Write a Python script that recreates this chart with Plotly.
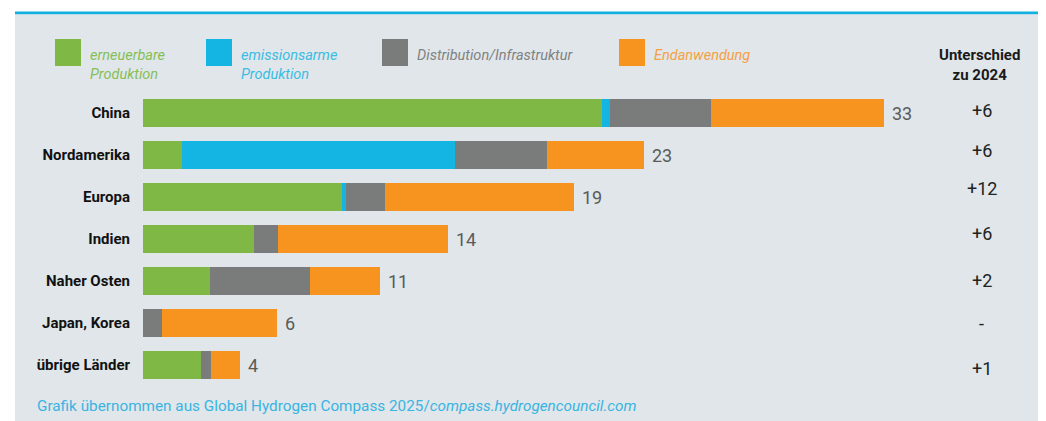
import plotly.graph_objects as go

# data (Mrd. USD, stacked by value-chain step)
regions = ["China", "Nordamerika", "Europa", "Indien", "Naher Osten", "Japan, Korea", "übrige Länder"]
renewable = [20.45, 1.75, 8.85, 4.95, 3.0, 0.0, 2.6]
low_emission = [0.35, 12.15, 0.2, 0.0, 0.0, 0.0, 0.0]
distribution = [4.5, 4.1, 1.75, 1.05, 4.45, 0.85, 0.45]
end_use = [7.7, 4.3, 8.4, 7.6, 3.1, 5.1, 1.25]
totals = ["33", "23", "19", "14", "11", "6", "4"]
diff_2024 = ["+6", "+6", "+12", "+6", "+2", "-", "+1"]

series_names = ["erneuerbare<br>Produktion", "emissionsarme<br>Produktion",
                "Distribution/Infrastruktur", "Endanwendung"]
series_values = [renewable, low_emission, distribution, end_use]
bar_colors = ["#80b846", "#14b5e2", "#7a7b7b", "#f7931f"]
text_colors = ["#86bf58", "#3bbce4", "#808283", "#f6a045"]

W, H = 1046, 421
OFF = 8  # the page body margin shifts the figure by 8px


def px(x):
    return (x - OFF) / W


def py(y):
    return 1 - (y - OFF) / H


fig = go.Figure()
for name, vals, col in zip(series_names, series_values, bar_colors):
    fig.add_trace(go.Bar(
        y=regions, x=vals, orientation="h", name=name,
        marker=dict(color=col, line=dict(width=0)),
        showlegend=False, hoverinfo="skip",
    ))

shapes = [
    # grey panel and the blue rule on top
    dict(type="rect", xref="paper", yref="paper", x0=px(15), x1=1, y0=0, y1=py(14),
         fillcolor="#e0e6e9", line=dict(width=0), layer="below"),
    dict(type="rect", xref="paper", yref="paper", x0=px(15), x1=1, y0=py(15), y1=py(13.8),
         fillcolor="#b9dcea", line=dict(width=0), layer="below"),
    dict(type="rect", xref="paper", yref="paper", x0=px(15), x1=1, y0=py(14), y1=py(11.5),
         fillcolor="#12b0e0", line=dict(width=0), layer="below"),
]

annotations = []

# custom legend
legend_x = [55, 206, 382, 619]
for lx, name, col, tcol in zip(legend_x, series_names, bar_colors, text_colors):
    shapes.append(dict(type="rect", xref="paper", yref="paper",
                       x0=px(lx), x1=px(lx + 26), y0=py(66), y1=py(39),
                       fillcolor=col, line=dict(width=0)))
    annotations.append(dict(xref="paper", yref="paper", x=px(lx + 33), y=py(45),
                            xanchor="left", yanchor="top", align="left",
                            text=f"<i>{name}</i>", showarrow=False,
                            font=dict(size=14.5, color=tcol)))

# totals at the bar ends
for i, r in enumerate(regions):
    end = sum(v[i] for v in series_values)
    annotations.append(dict(x=end, y=r, xref="x", yref="y", text=totals[i],
                            xanchor="left", yanchor="middle", xshift=6, showarrow=False,
                            font=dict(size=18, color="#5a5a5a")))

# difference column
diff_shift = [3, 5, 9, 6, 1, 0, -3]
for r, d, s in zip(regions, diff_2024, diff_shift):
    annotations.append(dict(xref="paper", yref="y", x=px(982), y=r, text=d,
                            xanchor="center", yanchor="middle", yshift=s, showarrow=False,
                            font=dict(size=18, color="#222222")))

annotations.append(dict(xref="paper", yref="paper", x=px(979), y=py(65),
                        text="<b>Unterschied<br>zu 2024</b>", showarrow=False,
                        xanchor="center", yanchor="middle",
                        font=dict(size=15, color="#1a1a1a")))

annotations.append(dict(xref="paper", yref="paper", x=px(35), y=py(406),
                        xanchor="left", yanchor="middle", showarrow=False,
                        text="Grafik übernommen aus Global Hydrogen Compass 2025/"
                             "<i>compass.hydrogencouncil.com</i>",
                        font=dict(size=15.3, color="#3ab4e2")))

fig.update_layout(
    barmode="stack",
    bargap=0.31,
    width=W, height=H,
    margin=dict(l=0, r=0, t=0, b=0),
    paper_bgcolor="white",
    plot_bgcolor="rgba(0,0,0,0)",
    font=dict(family="Roboto, Arial", size=14, color="#1a1a1a"),
    shapes=shapes,
    annotations=annotations,
    xaxis=dict(domain=[px(143), 1], range=[0, (W - (143 - OFF)) / 22.45], visible=False,
               fixedrange=True),
    yaxis=dict(domain=[py(386), py(92)], type="category", categoryorder="array",
               categoryarray=regions, range=[6.5, -0.5], showgrid=False,
               zeroline=False, showline=False, ticks="", ticklabelstandoff=12,
               tickfont=dict(size=15, color="#111111", weight="bold"),
               fixedrange=True),
)

fig.write_html("out.html")
